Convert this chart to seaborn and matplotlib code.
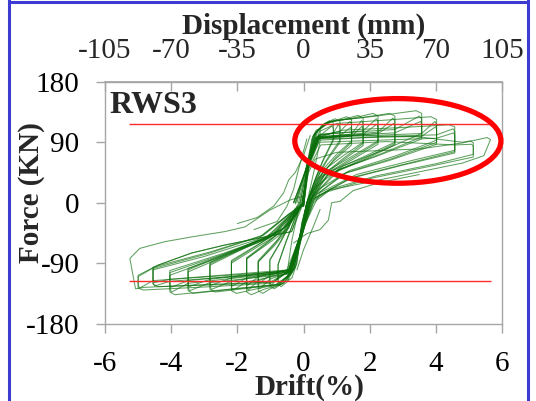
"""Hysteresis response of wall specimen RWS3 (force vs drift, displacement on top)."""

import matplotlib

matplotlib.use("Agg")

import matplotlib.pyplot as plt
import pandas as pd
import seaborn as sns
from matplotlib.lines import Line2D
from matplotlib.patches import Ellipse


DRIFT_TICKS = [-6, -4, -2, 0, 2, 4, 6]
FORCE_TICKS = [-180, -90, 0, 90, 180]
DISPLACEMENT_TICKS = [-105, -70, -35, 0, 35, 70, 105]
MM_PER_PERCENT = 17.5  # 105 mm <-> 6 % drift

# first cycle at each drift level as (drift %, force kN)
PRIMARY_LOOPS = [
    [(0, 0), (0.1, 55), (0.25, 95), (0.38, 108), (0.5, 110), (0.5, 92), (0.35, 55), (0.15, 10),
     (-0.05, -30), (-0.2, -90), (-0.35, -112), (-0.47, -116), (-0.47, -95), (-0.35, -55), (-0.15, -10), (0, 0)],
    [(0, 0), (0.14, 58), (0.28, 98), (0.55, 115), (0.78, 122), (0.9, 119), (0.9, 95), (0.6, 65), (0.35, 35), (0.15, 5),
     (-0.05, -35), (-0.22, -92), (-0.5, -118), (-0.68, -125), (-0.77, -121), (-0.77, -92), (-0.55, -60), (-0.3, -28), (-0.1, 0)],
    [(-0.1, 0), (0.1, 52), (0.33, 100), (0.6, 117), (0.95, 125), (1.1, 121), (1.1, 93), (0.75, 68), (0.4, 40), (0.15, 8),
     (-0.05, -30), (-0.28, -98), (-0.55, -117), (-0.88, -128), (-1.02, -124), (-1.02, -85), (-0.7, -58), (-0.35, -25), (-0.1, 2)],
    [(-0.1, 2), (0.16, 62), (0.36, 104), (0.65, 118), (1.0, 123), (1.3, 128), (1.45, 124), (1.45, 92), (1.0, 72), (0.5, 45), (0.2, 10),
     (0.0, -35), (-0.25, -96), (-0.6, -120), (-1.0, -128), (-1.23, -135), (-1.37, -131), (-1.37, -88), (-0.9, -65), (-0.45, -38), (-0.15, 0)],
    [(-0.15, 0), (0.08, 50), (0.3, 101), (0.7, 119), (1.2, 124), (1.65, 130), (1.8, 126), (1.8, 90), (1.2, 70), (0.6, 48), (0.25, 15),
     (0.05, -30), (-0.33, -103), (-0.65, -121), (-1.2, -129), (-1.58, -137), (-1.72, -133), (-1.72, -83), (-1.1, -62), (-0.5, -40), (-0.2, -5)],
    [(-0.2, 0), (0.12, 60), (0.4, 107), (0.75, 120), (1.5, 126), (2.1, 133), (2.25, 129), (2.25, 92), (1.5, 70), (0.7, 47), (0.3, 18),
     (0.08, -26), (-0.3, -99), (-0.7, -121), (-1.4, -128), (-2.03, -135), (-2.18, -131), (-2.18, -90), (-1.4, -66), (-0.6, -42), (-0.25, -8)],
    [(-0.25, -2), (0.06, 48), (0.34, 103), (0.8, 121), (1.8, 127), (2.6, 133), (2.76, 129), (2.76, 90), (1.8, 68), (0.8, 46), (0.3, 15),
     (0.02, -34), (-0.38, -106), (-0.75, -122), (-1.8, -128), (-2.68, -133), (-2.83, -129), (-2.83, -93), (-1.8, -68), (-0.7, -44), (-0.25, -10)],
    [(-0.25, 0), (0.18, 66), (0.44, 109), (0.9, 122), (2.2, 129), (3.4, 137), (3.57, 133), (3.57, 103), (2.4, 78), (1.2, 55), (0.4, 25),
     (0.1, -24), (-0.4, -106), (-0.8, -122), (-2.2, -129), (-3.34, -135), (-3.49, -131), (-3.49, -103), (-2.3, -78), (-1.0, -52), (-0.3, -12)],
    [(-0.3, 0), (0.1, 54), (0.48, 106), (1.0, 118), (2.5, 123), (3.85, 128), (4.02, 124), (4.02, 93), (2.8, 70), (1.4, 48), (0.45, 20),
     (0.0, -36), (-0.44, -108), (-0.85, -122), (-2.5, -130), (-3.89, -137), (-4.04, -133), (-4.04, -108), (-2.6, -82), (-1.2, -55), (-0.35, -15)],
    [(-0.3, 0), (0.14, 57), (0.42, 98), (1.2, 108), (3.0, 112), (4.4, 116), (4.57, 113), (4.57, 78), (3.2, 62), (1.6, 42), (0.5, 15),
     (0.06, -30), (-0.36, -98), (-0.9, -118), (-2.5, -122), (-4.4, -125), (-4.55, -121), (-4.55, -100), (-3.0, -80), (-1.4, -55), (-0.4, -15)],
    [(-0.3, 0), (0.09, 50), (0.5, 97), (1.5, 100), (3.5, 98), (4.8, 90), (5.05, 92), (5.13, 89), (5.13, 72), (4.0, 58), (2.2, 40), (0.8, 20), (0.3, 5),
     (-0.02, -38), (-0.48, -104), (-1.0, -120), (-2.8, -125), (-4.85, -130), (-5.0, -127), (-5.0, -110), (-4.4, -93), (-3.39, -75),
     (-2.38, -63), (-1.37, -53), (-0.36, -43), (-0.1, -5)],
    [(-0.1, -5), (0.15, 45), (0.35, 65), (1.0, 75), (2.5, 78), (3.5, 80), (4.8, 89), (5.55, 97), (5.65, 94), (5.45, 70), (4.8, 59),
     (3.3, 44), (1.8, 29), (0.8, 19), (0.3, 0), (0.0, -40), (-0.42, -102), (-1.0, -118), (-3.0, -122), (-4.8, -126), (-5.08, -128),
     (-5.25, -83), (-4.95, -68), (-4.19, -58), (-3.39, -51), (-2.38, -43), (-1.77, -36), (-1.02, -11), (-0.41, 4), (0, 10)],
]

# second cycle at the same drift level (reload diagonals inside each step)
REPEAT_LOOPS = [
    [(0.0, -5), (0.17, 64), (0.35, 95), (0.5, 100), (0.85, 114), (0.9, 111), (0.9, 93), (0.55, 58), (0.3, 28), (0.1, 0),
     (-0.12, -52), (-0.3, -98), (-0.47, -108), (-0.72, -120), (-0.77, -116), (-0.77, -92), (-0.5, -55), (-0.25, -22), (0, 0)],
    [(0, -5), (0.13, 56), (0.38, 96), (0.9, 104), (1.05, 116), (1.1, 113), (1.1, 90), (0.7, 62), (0.35, 32), (0.1, 0),
     (-0.08, -46), (-0.36, -100), (-0.77, -111), (-0.97, -123), (-1.02, -119), (-1.02, -86), (-0.65, -55), (-0.3, -22), (0, 0)],
    [(0, -5), (0.2, 66), (0.44, 100), (1.1, 106), (1.4, 121), (1.45, 117), (1.45, 90), (0.95, 66), (0.45, 36), (0.1, 0),
     (-0.14, -56), (-0.4, -103), (-1.02, -114), (-1.32, -128), (-1.37, -124), (-1.37, -88), (-0.85, -60), (-0.4, -30), (0, 0)],
    [(0, -5), (0.11, 52), (0.38, 97), (1.45, 102), (1.75, 122), (1.8, 118), (1.8, 88), (1.15, 64), (0.55, 40), (0.1, 0),
     (-0.06, -44), (-0.34, -100), (-1.37, -116), (-1.67, -130), (-1.72, -126), (-1.72, -84), (-1.05, -58), (-0.45, -32), (0, 0)],
    [(-0.05, -5), (0.16, 60), (0.46, 101), (1.8, 107), (2.2, 125), (2.25, 121), (2.25, 90), (1.45, 66), (0.65, 42), (0.15, 0),
     (-0.1, -50), (-0.42, -105), (-1.72, -118), (-2.13, -130), (-2.18, -126), (-2.18, -88), (-1.35, -62), (-0.55, -36), (0, 0)],
    [(-0.05, -5), (0.1, 50), (0.36, 98), (2.25, 105), (2.7, 126), (2.76, 122), (2.76, 88), (1.75, 64), (0.75, 42), (0.15, 0),
     (-0.13, -54), (-0.38, -102), (-2.18, -117), (-2.78, -129), (-2.83, -125), (-2.83, -91), (-1.75, -66), (-0.65, -40), (0, 0)],
    [(-0.05, -5), (0.18, 62), (0.5, 102), (2.76, 109), (3.5, 129), (3.57, 125), (3.57, 98), (2.3, 72), (1.1, 50), (0.2, 5),
     (-0.09, -48), (-0.46, -106), (-2.83, -119), (-3.44, -131), (-3.49, -127), (-3.49, -100), (-2.2, -74), (-0.9, -48), (0, 0)],
    [(-0.05, -5), (0.12, 54), (0.43, 97), (3.57, 103), (3.97, 121), (4.02, 117), (4.02, 90), (2.7, 66), (1.3, 45), (0.2, 5),
     (-0.11, -52), (-0.4, -103), (-3.49, -120), (-3.99, -133), (-4.04, -129), (-4.04, -104), (-2.5, -78), (-1.1, -52), (0, 0)],
    [(-0.05, -5), (0.16, 57), (0.47, 93), (2.5, 99), (4.02, 101), (4.52, 110), (4.57, 106), (4.57, 76), (3.1, 58), (1.5, 38), (0.25, 5),
     (-0.1, -50), (-0.47, -104), (-4.04, -117), (-4.5, -124), (-4.55, -120), (-4.55, -98), (-2.9, -76), (-1.3, -50), (0, 0)],
    [(-0.05, -5), (0.13, 48), (0.52, 86), (2.5, 91), (4.57, 86), (5.08, 87), (5.13, 84), (5.13, 68), (3.9, 55), (2.1, 37), (0.7, 16), (0.2, 0),
     (-0.1, -50), (-0.52, -102), (-4.55, -116), (-4.95, -127), (-5.0, -123), (-5.0, -108), (-4.4, -93), (-3.39, -75),
     (-2.38, -63), (-1.37, -53), (-0.36, -43), (0, 0)],
]

# third cycle at the same drift level, a little weaker again
THIRD_LOOPS = [
    [(0, -5), (0.15, 58), (0.42, 95), (1.1, 100), (1.42, 112), (1.45, 108), (1.45, 86), (0.9, 62), (0.4, 34), (0.1, 0),
     (-0.1, -48), (-0.38, -98), (-1.02, -108), (-1.34, -120), (-1.37, -116), (-1.37, -86), (-0.8, -56), (-0.35, -28), (0, 0)],
    [(0, -5), (0.14, 56), (0.4, 95), (1.45, 99), (1.77, 114), (1.8, 110), (1.8, 85), (1.1, 60), (0.5, 36), (0.1, 0),
     (-0.1, -48), (-0.4, -100), (-1.37, -110), (-1.69, -123), (-1.72, -119), (-1.72, -82), (-1.0, -55), (-0.42, -30), (0, 0)],
    [(-0.05, -5), (0.15, 57), (0.44, 96), (1.8, 102), (2.22, 117), (2.25, 113), (2.25, 87), (1.4, 62), (0.6, 40), (0.15, 0),
     (-0.1, -48), (-0.42, -100), (-1.72, -112), (-2.15, -124), (-2.18, -120), (-2.18, -86), (-1.3, -60), (-0.5, -34), (0, 0)],
    [(-0.05, -5), (0.15, 57), (0.45, 96), (2.25, 103), (2.73, 118), (2.76, 114), (2.76, 86), (1.7, 61), (0.7, 40), (0.15, 0),
     (-0.1, -48), (-0.43, -100), (-2.18, -112), (-2.8, -123), (-2.83, -119), (-2.83, -89), (-1.7, -63), (-0.6, -38), (0, 0)],
    [(-0.05, -5), (0.16, 58), (0.47, 98), (2.76, 104), (3.54, 121), (3.57, 117), (3.57, 95), (2.2, 69), (1.0, 48), (0.2, 5),
     (-0.1, -48), (-0.45, -101), (-2.83, -114), (-3.46, -125), (-3.49, -121), (-3.49, -98), (-2.1, -71), (-0.85, -46), (0, 0)],
    [(-0.05, -5), (0.14, 55), (0.45, 95), (3.57, 99), (3.99, 113), (4.02, 109), (4.02, 87), (2.6, 63), (1.2, 43), (0.2, 5),
     (-0.1, -48), (-0.45, -101), (-3.49, -116), (-4.01, -126), (-4.04, -122), (-4.04, -101), (-2.4, -75), (-1.0, -50), (0, 0)],
    [(-0.05, -5), (0.15, 53), (0.46, 90), (4.02, 96), (4.54, 104), (4.57, 100), (4.57, 74), (3.0, 56), (1.4, 36), (0.25, 5),
     (-0.1, -48), (-0.46, -100), (-4.04, -114), (-4.52, -119), (-4.55, -115), (-4.55, -96), (-2.8, -73), (-1.2, -48), (0, 0)],
]

# pinched reloading branches crossing the centre
PINCH_CURVES = [
    [(-2.0, -31), (-1.4, -22), (-0.9, -5), (-0.6, 15), (-0.45, 34), (-0.25, 45), (0.0, 70), (0.2, 100)],
    [(-0.3, -60), (0.1, -46), (0.5, -40), (0.75, -26), (0.85, 0), (1.1, 2), (1.5, 18), (2.3, 30), (3.5, 42)],
    [(-1.5, -40), (-0.8, -28), (-0.5, -5), (-0.3, 20), (-0.15, 50), (0.1, 95)],
    [(0.5, -10), (0.3, -35), (0.0, -70), (-0.2, -100)],
]

LIMIT_FORCE = [117, -117]
LIMIT_DRIFT_START = [-5.28, -5.28]
LIMIT_DRIFT_END = [5.63, 5.68]

HIGHLIGHT_CENTER = (2.85, 92)
HIGHLIGHT_WIDTH = 6.23
HIGHLIGHT_HEIGHT = 126

GREEN = "#0a6e0a"
RED = "#ff2a2a"
GREY = "#a6a6a6"
BORDER_BLUE = "#3c3cd2"


def build_frame() -> pd.DataFrame:
    rows = []
    curves = PRIMARY_LOOPS + REPEAT_LOOPS + THIRD_LOOPS + PINCH_CURVES
    for curve_id, curve in enumerate(curves):
        for order, (drift, force) in enumerate(curve):
            rows.append({"curve": curve_id, "order": order, "drift": drift, "force": force})
    return pd.DataFrame(rows)


def main() -> None:
    sns.set_theme(style="ticks")
    plt.rcParams["font.family"] = ["Liberation Serif", "DejaVu Serif"]

    frame = build_frame()

    fig = plt.figure(figsize=(5.36, 4.01), dpi=100)
    ax = fig.add_axes([0.196, 0.193, 0.7407, 0.603])

    sns.lineplot(
        data=frame, x="drift", y="force", units="curve", estimator=None, sort=False,
        color=GREEN, linewidth=0.75, alpha=0.65, legend=False, ax=ax,
    )

    ax.hlines(LIMIT_FORCE, LIMIT_DRIFT_START, LIMIT_DRIFT_END, color=RED, linewidth=1.0, zorder=3)

    ax.add_patch(Ellipse(HIGHLIGHT_CENTER, HIGHLIGHT_WIDTH, HIGHLIGHT_HEIGHT, fill=False,
                         edgecolor="red", linewidth=3.8, clip_on=False, zorder=4))

    ax.set_xlim(-6, 6)
    ax.set_ylim(-180, 180)
    ax.set_xticks(DRIFT_TICKS)
    ax.set_yticks(FORCE_TICKS)
    ax.set_xticklabels([str(t) for t in DRIFT_TICKS])
    ax.set_yticklabels([str(t) for t in FORCE_TICKS])
    ax.tick_params(axis="both", direction="out", length=6.5, width=1, color=GREY,
                   labelsize=21, labelcolor="black")
    ax.tick_params(axis="x", pad=13)
    ax.tick_params(axis="y", pad=12)
    for spine in ax.spines.values():
        spine.set_color(GREY)
        spine.set_linewidth(1.0)

    ax.set_xlabel("Drift(%)", fontsize=21, fontweight="bold")
    ax.xaxis.set_label_coords(0.515, -0.209)
    ax.set_ylabel("Force (KN)", fontsize=21, fontweight="bold")
    ax.yaxis.set_label_coords(-0.151, 0.54)

    top = ax.secondary_xaxis(
        "top", functions=(lambda d: d * MM_PER_PERCENT, lambda m: m / MM_PER_PERCENT)
    )
    top.set_xticks(DISPLACEMENT_TICKS)
    top.set_xticklabels([str(t) for t in DISPLACEMENT_TICKS])
    top.tick_params(direction="in", length=6.5, width=1, color=GREY, labelsize=21, pad=13)
    top.spines["top"].set_color(GREY)
    top.set_xlabel("Displacement (mm)", fontsize=21, fontweight="bold", labelpad=3)

    ax.text(0.01, 0.8706, "RWS3", transform=ax.transAxes, fontsize=23,
            fontweight="bold", va="baseline", ha="left")

    # blue slide frame
    fig.add_artist(Line2D([9 / 536, 9 / 536], [0, 1], color=BORDER_BLUE, linewidth=2.2))
    fig.add_artist(Line2D([9 / 536, 527.5 / 536], [1 - 2 / 401, 1 - 2 / 401], color=BORDER_BLUE, linewidth=2.2))
    fig.add_artist(Line2D([527.5 / 536, 527.5 / 536], [0, 1], color=BORDER_BLUE, linewidth=2.2))

    fig.savefig("out.png", dpi=100)
    plt.close(fig)


if __name__ == "__main__":
    main()
